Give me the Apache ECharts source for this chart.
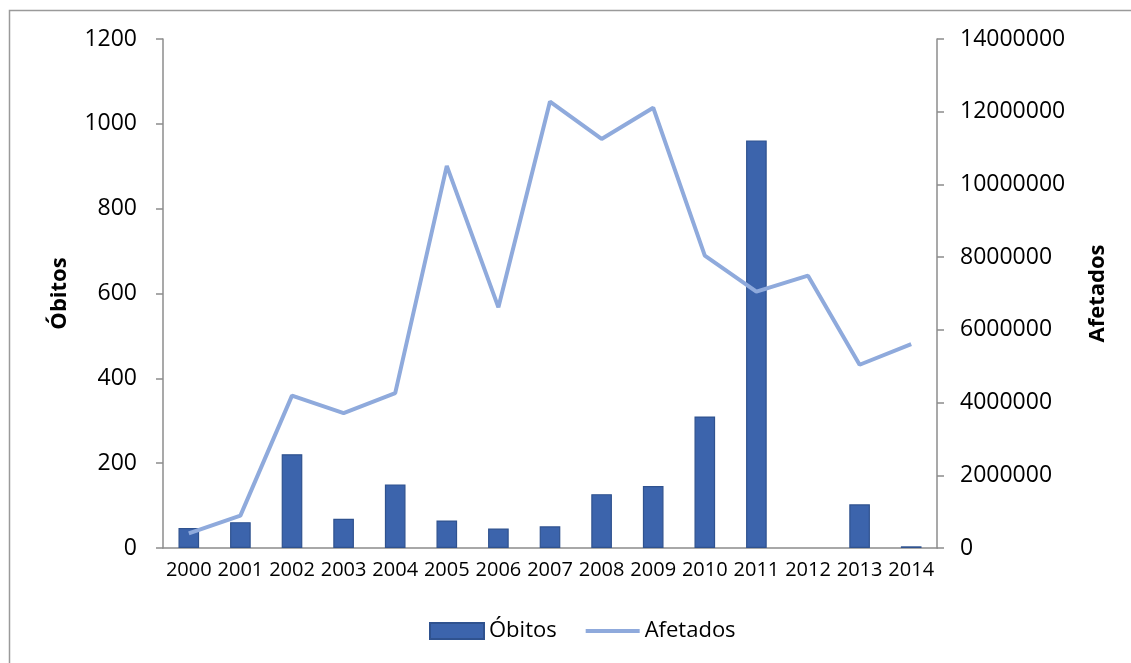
<!DOCTYPE html>
<html>
<head>
<meta charset="utf-8">
<title>Óbitos e Afetados 2000–2014</title>
<script src="https://cdn.jsdelivr.net/npm/echarts@6/dist/echarts.min.js"></script>
<style>
  html, body { margin: 0; padding: 0; background: #ffffff; }
  #chart { width: 1131px; height: 663px; }
</style>
</head>
<body>
<div id="chart"></div>
<script>
// Anos do período
const years = ['2000', '2001', '2002', '2003', '2004', '2005', '2006', '2007',
  '2008', '2009', '2010', '2011', '2012', '2013', '2014'];

// Número de óbitos por ano (eixo esquerdo)
const obitos = [47, 61, 221, 69, 150, 65, 46, 51, 127, 146, 310, 961, 0, 103, 4];

// Número de pessoas afetadas por ano (eixo direito)
const afetados = [405000, 890000, 4190000, 3710000, 4260000, 10510000, 6620000,
  12280000, 11250000, 12110000, 8040000, 7050000, 7490000, 5040000, 5610000];

const FONT = '"Open Sans", "Noto Sans", sans-serif';
const AXIS_GRAY = '#8c8c8c';
const plain = v => String(v);

// Zero-height bars get no outline, so an empty year stays empty
const barData = obitos.map(v => (v === 0 ? { value: v, itemStyle: { borderWidth: 0 } } : v));

const chart = echarts.init(document.getElementById('chart'), null, { renderer: 'canvas' });

chart.setOption({
  animation: false,
  backgroundColor: '#ffffff',
  textStyle: { fontFamily: FONT, color: '#000000' },
  graphic: [{
    type: 'rect',
    shape: { x: 9.5, y: 10.5, width: 1200, height: 800 },
    style: { fill: 'none', stroke: '#9a9a9a', lineWidth: 1.5 },
    silent: true
  }],
  grid: { left: 163, right: 194, top: 39, bottom: 115, containLabel: false },
  legend: {
    bottom: 16,
    left: 424,
    itemWidth: 54,
    itemHeight: 16,
    itemGap: 27,
    textStyle: { fontFamily: FONT, fontSize: 22, color: '#000000' },
    data: [
      { name: 'Óbitos', icon: 'rect' },
      { name: 'Afetados', itemStyle: { opacity: 0 }, lineStyle: { width: 4, color: '#8faadc' } }
    ]
  },
  xAxis: {
    type: 'category',
    data: years,
    axisLine: { lineStyle: { color: AXIS_GRAY, width: 1.5 } },
    axisTick: { show: false },
    axisLabel: { fontFamily: FONT, fontSize: 20, color: '#000000', margin: 12, interval: 0 }
  },
  yAxis: [
    {
      type: 'value',
      name: 'Óbitos',
      nameLocation: 'middle',
      nameGap: 92,
      nameTextStyle: { fontFamily: FONT, fontSize: 22, fontWeight: 'bold', color: '#000000' },
      min: 0,
      max: 1200,
      interval: 200,
      splitLine: { show: false },
      axisLine: { show: true, lineStyle: { color: AXIS_GRAY, width: 1.5 } },
      axisTick: { show: true, length: 7, lineStyle: { color: AXIS_GRAY, width: 1.5 } },
      axisLabel: { fontFamily: FONT, fontSize: 23, color: '#000000', margin: 26, formatter: plain }
    },
    {
      type: 'value',
      name: 'Afetados',
      nameLocation: 'middle',
      nameGap: 150,
      nameTextStyle: { fontFamily: FONT, fontSize: 22, fontWeight: 'bold', color: '#000000' },
      min: 0,
      max: 14000000,
      interval: 2000000,
      splitLine: { show: false },
      axisLine: { show: true, lineStyle: { color: AXIS_GRAY, width: 1.5 } },
      axisTick: { show: true, length: 7, lineStyle: { color: AXIS_GRAY, width: 1.5 } },
      axisLabel: { fontFamily: FONT, fontSize: 23, color: '#000000', margin: 23, formatter: plain }
    }
  ],
  series: [
    {
      name: 'Óbitos',
      type: 'bar',
      yAxisIndex: 0,
      data: barData,
      barWidth: '40%',
      itemStyle: { color: '#3c64ac', borderColor: '#2f528f', borderWidth: 1.2 }
    },
    {
      name: 'Afetados',
      type: 'line',
      yAxisIndex: 1,
      data: afetados,
      symbol: 'none',
      z: 3,
      lineStyle: { color: '#8faadc', width: 4 },
      itemStyle: { color: '#8faadc' }
    }
  ]
});
</script>
</body>
</html>
